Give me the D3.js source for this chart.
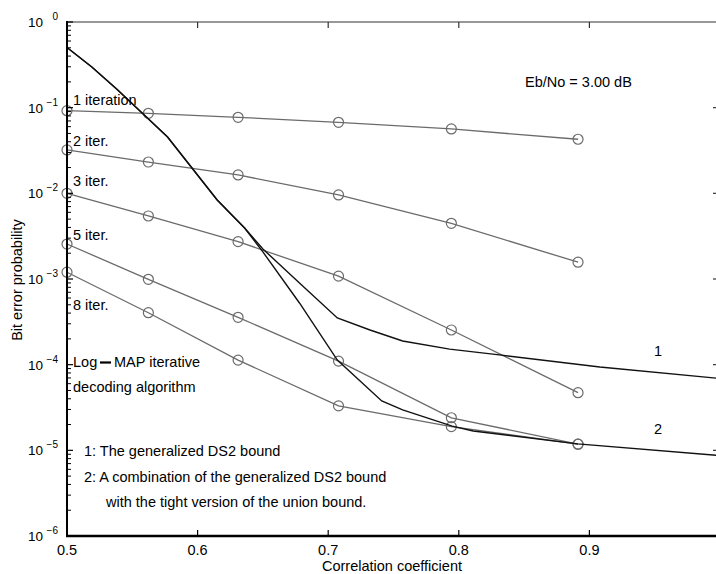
<!DOCTYPE html>
<meta charset="utf-8">
<style>
  body { margin: 0; background: #fff; }
  text { font-family: "Liberation Sans", Arial, sans-serif; fill: #000; }
</style>
<script src="https://d3js.org/d3.v7.min.js"></script>
<body>
<script>

var width = 716,
    height = 574;

// correlation coefficient of the simulated points
var rho = [0.5, 0.5623, 0.631, 0.7079, 0.7943, 0.8913];

// Log-MAP iterative decoding, bit error probability
var iter1 = [0.0922, 0.0860, 0.0772, 0.0675, 0.0564, 0.0428];
var iter2 = [0.0321, 0.0232, 0.0164, 0.00957, 0.00447, 0.00157];
var iter3 = [0.0100, 0.00544, 0.00273, 0.00108, 0.000254, 0.0000471];
var iter5 = [0.00256, 0.000992, 0.000357, 0.000110, 0.0000240, 0.0000118];
var iter8 = [0.00120, 0.000404, 0.000113, 0.0000330, 0.0000189, 0.0000118];
var iterNames = ["1 iteration", "2 iter.", "3 iter.", "5 iter.", "8 iter."];

// bounds
var bound1Rho = [0.5, 0.519, 0.538, 0.577, 0.615, 0.636, 0.650, 0.678, 0.707, 0.732, 0.757, 0.793, 0.831, 0.908, 1.0];
var bound1 = [0.504, 0.298, 0.165, 0.0455, 0.00836, 0.00394, 0.00224, 0.000898, 0.000351, 0.000254, 0.000189, 0.000152, 0.000130, 0.0000940, 0.0000690];
var bound2Rho = [0.5, 0.519, 0.538, 0.577, 0.615, 0.636, 0.650, 0.678, 0.707, 0.741, 0.757, 0.795, 0.811, 0.891, 1.0];
var bound2 = [0.504, 0.298, 0.165, 0.0455, 0.00836, 0.00394, 0.00207, 0.000525, 0.000113, 0.0000377, 0.0000296, 0.0000192, 0.0000168, 0.0000119, 0.0000087];

var xTicks = [0.5, 0.6, 0.7, 0.8, 0.9];
var yExp = [0, -1, -2, -3, -4, -5, -6];

var x = d3.scaleLinear().domain([0.5, 1.0]).range([67, 720]);
var y = d3.scaleLog().domain([1e-6, 1]).range([536, 22]);

var svg = d3.select("body").append("svg")
    .attr("width", width)
    .attr("height", height)
    .style("display", "block");

var line = d3.line()
    .x(function(d){ return x(d[0]); })
    .y(function(d){ return y(d[1]); });

var iters = [iter1, iter2, iter3, iter5, iter8];
var gray = "#6b6b6b";

// iterative decoding curves
var series = svg.selectAll(".iter")
    .data(iters)
  .enter().append("g")
    .attr("class", "iter");

series.append("path")
    .attr("d", function(d){ return line(d.map(function(v, i){ return [rho[i], v]; })); })
    .attr("fill", "none")
    .attr("stroke", gray)
    .attr("stroke-width", 1.3);

series.selectAll("circle")
    .data(function(d){ return d.map(function(v, i){ return [rho[i], v]; }); })
  .enter().append("circle")
    .attr("cx", function(d){ return x(d[0]); })
    .attr("cy", function(d){ return y(d[1]); })
    .attr("r", 5)
    .attr("fill", "none")
    .attr("stroke", gray)
    .attr("stroke-width", 1.2);

// bounds
[[bound1Rho, bound1], [bound2Rho, bound2]].forEach(function(b){
  svg.append("path")
      .attr("d", line(b[0].map(function(r, i){ return [r, b[1][i]]; })))
      .attr("fill", "none")
      .attr("stroke", "#111")
      .attr("stroke-width", 1.4);
});

// axes frame
var g = svg.append("g").attr("class", "axes");

// top line + ticks
g.append("line").attr("x1", 67).attr("x2", 720).attr("y1", 22).attr("y2", 22)
    .attr("stroke", "#333").attr("stroke-width", 1.2);
g.selectAll(".ttick").data(xTicks.slice(1)).enter().append("line")
    .attr("x1", function(d){ return x(d); }).attr("x2", function(d){ return x(d); })
    .attr("y1", 22).attr("y2", 28)
    .attr("stroke", "#333").attr("stroke-width", 1.2);

// bottom axis
g.append("line").attr("x1", 66).attr("x2", 720).attr("y1", 536).attr("y2", 536)
    .attr("stroke", "#000").attr("stroke-width", 2.5);
g.selectAll(".btick").data(xTicks.slice(1)).enter().append("line")
    .attr("x1", function(d){ return x(d); }).attr("x2", function(d){ return x(d); })
    .attr("y1", 536).attr("y2", 530)
    .attr("stroke", "#000").attr("stroke-width", 1.2);
g.selectAll(".xlab").data(xTicks).enter().append("text")
    .attr("x", function(d){ return x(d); })
    .attr("y", 555)
    .attr("text-anchor", "middle")
    .style("font-size", "14.5px")
    .text(function(d){ return d3.format(".1f")(d); });

// left axis
g.append("line").attr("x1", 67).attr("x2", 67).attr("y1", 21).attr("y2", 537)
    .attr("stroke", "#000").attr("stroke-width", 2);
var minors = [];
yExp.slice(0, -1).forEach(function(e){
  for (var k = 2; k < 10; k++) minors.push(k * Math.pow(10, e - 1));
});
g.selectAll(".minor").data(minors).enter().append("line")
    .attr("x1", 67).attr("x2", 71)
    .attr("y1", function(d){ return y(d); }).attr("y2", function(d){ return y(d); })
    .attr("stroke", "#000").attr("stroke-width", 1);
g.selectAll(".major").data(yExp).enter().append("line")
    .attr("x1", 67).attr("x2", 73)
    .attr("y1", function(d){ return y(Math.pow(10, d)); }).attr("y2", function(d){ return y(Math.pow(10, d)); })
    .attr("stroke", "#000").attr("stroke-width", 1.2);
// right ticks
g.selectAll(".rmajor").data(yExp.slice(1, -1)).enter().append("line")
    .attr("x1", 713).attr("x2", 720)
    .attr("y1", function(d){ return y(Math.pow(10, d)); }).attr("y2", function(d){ return y(Math.pow(10, d)); })
    .attr("stroke", "#333").attr("stroke-width", 1.2);

var ylab = g.selectAll(".ylab").data(yExp).enter().append("g")
    .attr("transform", function(d){ return "translate(0," + y(Math.pow(10, d)) + ")"; });
ylab.append("text")
    .attr("x", 43).attr("y", 5)
    .attr("text-anchor", "end")
    .style("font-size", "13.5px")
    .text("10");
ylab.append("text")
    .attr("x", 58).attr("y", -2)
    .attr("text-anchor", "end")
    .style("font-size", "10px")
    .text(function(d){ return d === 0 ? "0" : "\u2212" + (-d); });

// axis titles
svg.append("text")
    .attr("x", 392).attr("y", 571)
    .attr("text-anchor", "middle")
    .style("font-size", "14.5px")
    .text("Correlation coefficient");
svg.append("text")
    .attr("transform", "translate(22,280) rotate(-90)")
    .attr("text-anchor", "middle")
    .style("font-size", "14.5px")
    .text("Bit error probability");

// curve labels
var labelDy = [-5.5, -3.5, -7, -4, 38];
iterNames.forEach(function(n, i){
  svg.append("text")
      .attr("x", 73)
      .attr("y", y(iters[i][0]) + labelDy[i])
      .style("font-size", "14.5px")
      .text(n);
});

svg.append("text").attr("x", 73).attr("y", 367).style("font-size", "14.5px").text("Log");
svg.append("line").attr("x1", 100).attr("x2", 111).attr("y1", 362.5).attr("y2", 362.5)
    .attr("stroke", "#000").attr("stroke-width", 2.2);
svg.append("text").attr("x", 114).attr("y", 367).style("font-size", "14.5px").text("MAP iterative");
svg.append("text").attr("x", 73).attr("y", 392).style("font-size", "14.5px").text("decoding algorithm");

svg.append("text").attr("x", 84).attr("y", 456).style("font-size", "14.5px").text("1: The generalized DS2 bound");
svg.append("text").attr("x", 84).attr("y", 482).style("font-size", "14.5px").text("2: A combination of the generalized DS2 bound");
svg.append("text").attr("x", 106).attr("y", 507).style("font-size", "14.5px").text("with the tight version of the union bound.");

svg.append("text").attr("x", 525).attr("y", 87).style("font-size", "14.5px").text("Eb/No = 3.00 dB");
svg.append("text").attr("x", 658).attr("y", 356).attr("text-anchor", "middle").style("font-size", "14.5px").text("1");
svg.append("text").attr("x", 658).attr("y", 434).attr("text-anchor", "middle").style("font-size", "14.5px").text("2");

</script>
</body>
